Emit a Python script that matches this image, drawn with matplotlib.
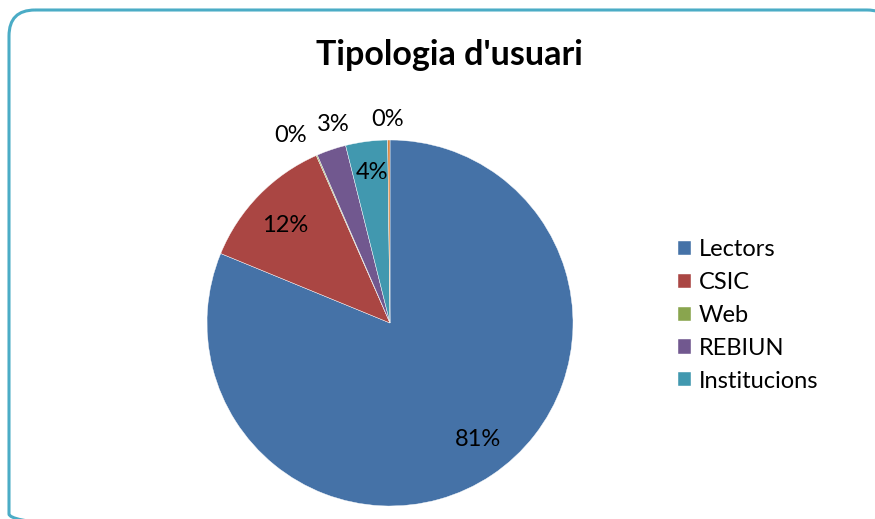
import numpy as np
import matplotlib.pyplot as plt
from matplotlib.patches import FancyBboxPatch

# data
categories = ['Lectors', 'CSIC', 'Web', 'REBIUN', 'Institucions', '']
values     = [81.2, 12.2, 0.1, 2.6, 3.7, 0.2]
pct_labels = ['81%', '12%', '0%', '3%', '4%', '0%']
colors     = ['#4572A7', '#AA4643', '#89A54E', '#71588F', '#4198AF', '#DB843D']

plt.rcParams['font.family'] = ['Lato', 'DejaVu Sans']

fig = plt.figure(figsize=(8.75, 5.19), dpi=100)
W, H = 875, 519

# background axes in pixel units, for the rounded frame
bg = fig.add_axes([0, 0, 1, 1], zorder=-1)
bg.set_xlim(0, W)
bg.set_ylim(H, 0)
bg.axis('off')
bg.add_patch(FancyBboxPatch((9, 10), 884, 530,
                            boxstyle='round,pad=0,rounding_size=26',
                            facecolor='none', edgecolor='#4BACC6',
                            linewidth=2.2))

fig.text(449 / W, 1 - 55 / H, "Tipologia d'usuari", ha='center', va='center',
         fontsize=24.5, fontweight='bold')

# pie axes: center (390, 323), radius ~183 px
r = 183
ax = fig.add_axes([(390 - r) / W, 1 - (323 + r) / H, 2 * r / W, 2 * r / H])
wedges, _ = ax.pie(values, colors=colors, startangle=90, counterclock=False,
                   radius=1.0, wedgeprops=dict(edgecolor='white', linewidth=0.3))
ax.set_xlim(-1, 1)
ax.set_ylim(-1, 1)
ax.set_aspect('equal')
ax.axis('off')

# label distances (inside / outside) and small angle tweaks
dist  = [0.80, 0.785, 1.16, 1.13, 0.83, 1.11]
shift = [3.2, 1.3, 4.2, -2.7, -0.6, 0.4]
for w, lab, d, s in zip(wedges, pct_labels, dist, shift):
    ang = np.deg2rad((w.theta1 + w.theta2) / 2 + s)
    ax.text(d * np.cos(ang), d * np.sin(ang), lab, ha='center', va='center',
            fontsize=17, clip_on=False)

leg = fig.legend(wedges[:5], categories[:5], loc='upper left',
                 bbox_to_anchor=(669 / W, 1 - 230 / H), frameon=False,
                 fontsize=17, handlelength=0.55, handleheight=0.55,
                 handletextpad=0.3, labelspacing=0.5, borderaxespad=0)

fig.savefig('out.png', dpi=100)
